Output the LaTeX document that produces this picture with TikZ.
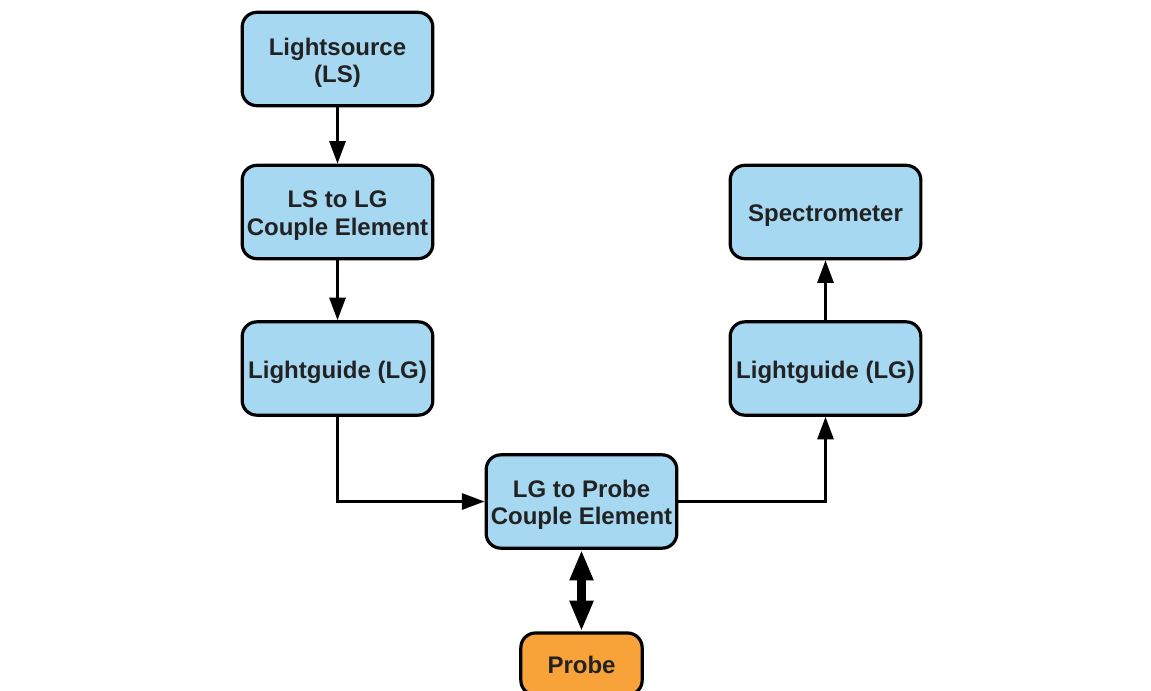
\documentclass[tikz,border=0pt]{standalone}
\usepackage{fontspec}
\setmainfont{Liberation Sans}
\usetikzlibrary{arrows.meta}
\definecolor{boxblue}{RGB}{166,216,242}
\definecolor{boxorange}{RGB}{248,162,58}
\definecolor{txt}{RGB}{34,34,34}
\begin{document}
\begin{tikzpicture}[x=0.75pt,y=-0.75pt,
  blk/.style={draw=black,line width=2.4pt,rounded corners=11pt,fill=boxblue,
    minimum width=143pt,minimum height=70pt,inner sep=0pt},
  lbl/.style={align=center,inner sep=0pt,yshift=-2.6pt,
    font=\fontsize{18}{20.5}\selectfont\bfseries,text=txt},
  conn/.style={line width=2.3pt,-{Triangle[length=17pt,width=12pt]}},
  dbl/.style={line width=6.5pt,{Triangle[length=23pt,width=16.5pt]}-{Triangle[length=23pt,width=16.5pt]}}]
\useasboundingbox (0,0) rectangle (1151,691);
\node[blk,label={[lbl]center:{Lightsource\\(LS)}}] (ls) at (337.5,59) {};
\node[blk,label={[lbl]center:{LS to LG\\Couple Element}}] (lscp) at (337.5,212) {};
\node[blk,label={[lbl]center:{Lightguide (LG)}}] (lg1) at (337.5,368.5) {};
\node[blk,label={[lbl]center:{LG to Probe\\Couple Element}}] (lgp) at (581.5,501.5) {};
\node[blk,label={[lbl]center:{Spectrometer}}] (spec) at (825.5,212) {};
\node[blk,label={[lbl]center:{Lightguide (LG)}}] (lg2) at (825.5,368.5) {};
\node[blk,fill=boxorange,minimum width=91pt,minimum height=46.5pt,
  label={[lbl,yshift=1.6pt]center:{Probe}}] (probe) at (581.5,664) {};
\draw[conn] (ls) -- (lscp);
\draw[conn] (lscp) -- (lg1);
\draw[conn] (lg1.south) |- (lgp.west);
\draw[conn] (lgp.east) -| (lg2.south);
\draw[conn] (lg2) -- (spec);
\draw[dbl] (lgp.south) -- (probe.north);
\end{tikzpicture}
\end{document}
